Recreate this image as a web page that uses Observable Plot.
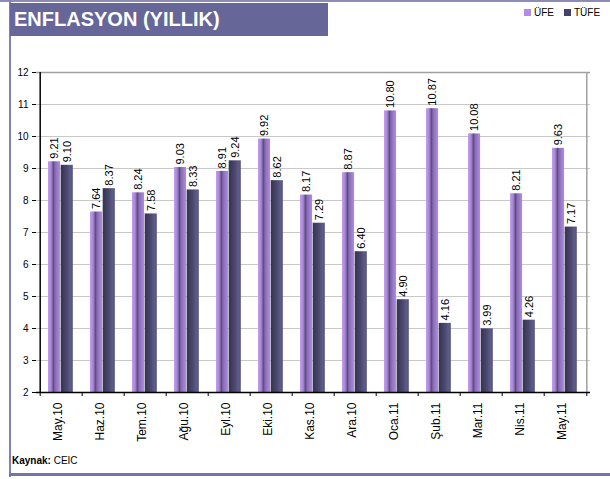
<!DOCTYPE html>
<html>
<head>
<meta charset="utf-8">
<script src="https://cdn.jsdelivr.net/npm/d3@7"></script>
<script src="https://cdn.jsdelivr.net/npm/@observablehq/plot@0.6"></script>
<style>
  html, body { margin: 0; padding: 0; background: #fff; }
  #wrap { position: relative; width: 610px; height: 479px; overflow: hidden; font-family: "Liberation Sans", Arial, sans-serif; }
  #chart { position: absolute; left: 0; top: 0; }
  .topline { position: absolute; left: 0; top: 0; width: 610px; height: 2px; background: #8c8cb4; }
  .leftline { position: absolute; left: 9px; top: 0; width: 2px; height: 477px; background: #8080b8; }
  .bottomline { position: absolute; left: 9px; top: 473px; width: 601px; height: 3px; background: #7474ac; }
  .titlebox { position: absolute; left: 10px; top: 3px; width: 318px; height: 33px; background: #666699; color: #fff; font-weight: bold; font-size: 20px; line-height: 33px; padding-left: 4px; box-sizing: border-box; }
  .legend { position: absolute; top: 7px; left: 524px; font-size: 10px; color: #000; white-space: nowrap; }
  .legend span.sw { display: inline-block; width: 7px; height: 7px; margin-right: 3px; }
  .legend span.item { margin-right: 10px; }
  .source { position: absolute; left: 12px; top: 455px; font-size: 10px; color: #000; }
</style>
</head>
<body>
<div id="wrap">
  <div id="chart"></div>
  <div class="topline"></div>
  <div class="leftline"></div>
  <div class="bottomline"></div>
  <div class="titlebox">ENFLASYON (YILLIK)</div>
  <div class="legend" id="legend"></div>
  <div class="source"><b>Kaynak:</b> CEIC</div>
</div>
<script>
const months = ["May.10","Haz.10","Tem.10","Ağu.10","Eyl.10","Eki.10","Kas.10","Ara.10","Oca.11","Şub.11","Mar.11","Nis.11","May.11"];
const ufe  = [9.21, 7.64, 8.24, 9.03, 8.91, 9.92, 8.17, 8.87, 10.80, 10.87, 10.08, 8.21, 9.63];
const tufe = [9.10, 8.37, 7.58, 8.33, 9.24, 8.62, 7.29, 6.40, 4.90, 4.16, 3.99, 4.26, 7.17];
const seriesNames = ["ÜFE", "TÜFE"];
const yTicks = [2,3,4,5,6,7,8,9,10,11,12];

const W = 610, H = 479;
const mL = 36, mR = 20, mT = 72, mB = 87;
const bw = (W - mL - mR) / months.length;
const barW = 12.7;
const off = 8;

const rows = [];
months.forEach((m, i) => {
  rows.push({month: m, series: "ÜFE", value: ufe[i]});
  rows.push({month: m, series: "TÜFE", value: tufe[i]});
});
const ufeRows = rows.filter(d => d.series === "ÜFE");
const tufeRows = rows.filter(d => d.series === "TÜFE");

const plot = Plot.plot({
  width: W, height: H,
  marginLeft: mL, marginRight: mR, marginTop: mT, marginBottom: mB,
  style: {fontFamily: "Liberation Sans, Arial, sans-serif", background: "transparent", overflow: "visible"},
  x: {domain: months, padding: 0, axis: null, label: null},
  y: {domain: [2, 12], axis: null, label: null},
  marks: [
    Plot.ruleY(yTicks.slice(1, -1), {stroke: "#c8c8c8", strokeWidth: 1}),
    Plot.ruleY([12], {stroke: "#a0a0a0", strokeWidth: 1.5}),
    Plot.ruleX([months[months.length - 1]], {y1: 2, y2: 12, dx: bw / 2, stroke: "#a0a0a0", strokeWidth: 1.5}),
    Plot.barY(ufeRows, {x: "month", y1: 2, y2: "value", fill: "url(#gUfe)", insetLeft: off, insetRight: bw - off - barW}),
    Plot.barY(tufeRows, {x: "month", y1: 2, y2: "value", fill: "url(#gTufe)", insetLeft: off + barW, insetRight: bw - off - 2 * barW}),
    Plot.text(ufeRows, {x: "month", y: "value", text: d => d.value.toFixed(2), rotate: -90, textAnchor: "start", dx: off + barW / 2 - bw / 2, dy: -3, fontSize: 11, fill: "#000"}),
    Plot.text(tufeRows, {x: "month", y: "value", text: d => d.value.toFixed(2), rotate: -90, textAnchor: "start", dx: off + 1.5 * barW - bw / 2, dy: -3, fontSize: 11, fill: "#000"}),
    Plot.ruleY([2], {stroke: "#000", strokeWidth: 1.3}),
    Plot.ruleX([months[0]], {y1: 2, y2: 12, dx: -bw / 2, stroke: "#000", strokeWidth: 1.5}),
    Plot.axisY({ticks: yTicks, tickSize: 4, tickPadding: 4, fontSize: 10, tickFormat: d => String(d), color: "#000", label: null}),
    Plot.axisX({tickSize: 4, tickFormat: () => "", dx: -bw / 2, color: "#000", label: null}),
    Plot.axisX({ticks: [months[months.length - 1]], tickSize: 4, tickFormat: () => "", dx: bw / 2, color: "#000", label: null}),
    Plot.text(months, {x: d => d, frameAnchor: "bottom", rotate: -90, textAnchor: "end", dy: 10, fontSize: 12, fill: "#000"})
  ]
});

// Gradients for cylinder-like bars
const ns = "http://www.w3.org/2000/svg";
const defs = document.createElementNS(ns, "defs");
function grad(id, stops) {
  const g = document.createElementNS(ns, "linearGradient");
  g.setAttribute("id", id);
  g.setAttribute("x1", "0"); g.setAttribute("x2", "1");
  g.setAttribute("y1", "0"); g.setAttribute("y2", "0");
  stops.forEach(([o, c]) => {
    const s = document.createElementNS(ns, "stop");
    s.setAttribute("offset", o);
    s.setAttribute("stop-color", c);
    g.appendChild(s);
  });
  defs.appendChild(g);
}
grad("gUfe", [["0", "#c39cf0"], ["0.25", "#a98ad4"], ["0.45", "#5f4d82"], ["0.6", "#8a6cb8"], ["1", "#b08ce4"]]);
grad("gTufe", [["0", "#35334f"], ["0.5", "#4a4870"], ["0.8", "#5e5c88"], ["1", "#52507a"]]);
plot.insertBefore(defs, plot.firstChild);

document.getElementById("chart").appendChild(plot);

const legendColors = {"ÜFE": "#b48ce6", "TÜFE": "#44426a"};
document.getElementById("legend").innerHTML = seriesNames.map(s =>
  `<span class="item"><span class="sw" style="background:${legendColors[s]}"></span>${s}</span>`).join("");
</script>
</body>
</html>
